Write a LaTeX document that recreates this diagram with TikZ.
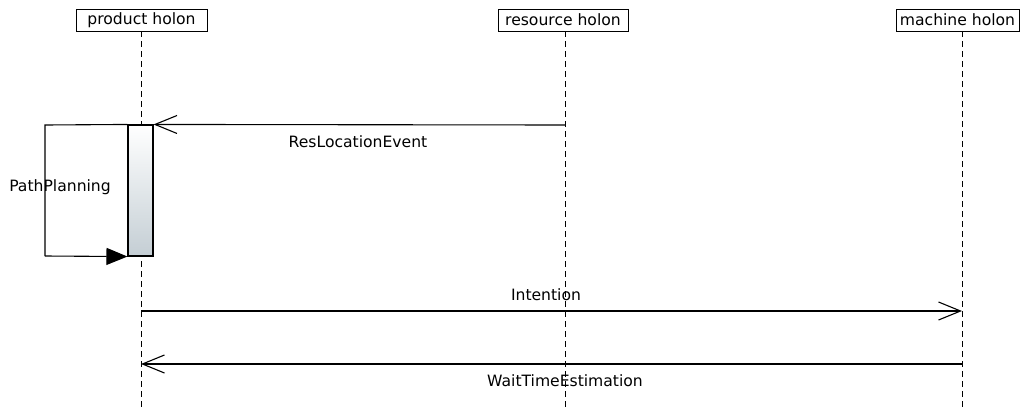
\documentclass[tikz,border=0pt]{standalone}
\usepackage{fontspec}
\setmainfont{DejaVu Sans}
\usetikzlibrary{arrows.meta}
\definecolor{actbottom}{RGB}{196,206,212}
\begin{document}
\begin{tikzpicture}[x=1pt,y=-1pt,
  font=\fontsize{15.6pt}{17pt}\selectfont,
  head/.style={draw, line width=0.9pt, minimum height=22pt, inner sep=0pt, anchor=center},
  lifeline/.style={line width=0.9pt, dash pattern=on 6pt off 4pt},
  msg/.style={line width=1.1pt, -{Straight Barb[length=22pt,width=18pt,line width=1.1pt]}},
  selfmsg/.style={line width=1.1pt, -{Triangle[length=21pt,width=17pt]}},
  lbl/.style={inner sep=0pt}]
\useasboundingbox (0,0) rectangle (1020,410);
% heads
\node[head, minimum width=131pt] (ph) at (141.5,20) {product holon};
\node[head, minimum width=130pt] (rh) at (563,20) {resource holon};
\node[head, minimum width=123pt] (mh) at (957.5,20) {machine holon};
% lifeline ends
\coordinate (pe) at (141,410);
\coordinate (re) at (565,410);
\coordinate (me) at (962,410);
\draw[lifeline] (ph.south -| pe) -- (pe);
\draw[lifeline] (rh.south -| re) -- (re);
\draw[lifeline] (mh.south -| me) -- (me);
% activation
\node[draw, line width=1.1pt, minimum width=25pt, minimum height=131pt, inner sep=0pt,
  top color=white, bottom color=actbottom] (act) at (140.5,190.5) {};
% message points
\coordinate (r1) at (565,125);
\coordinate (l1) at (45,125);
\coordinate (l2) at (45,256);
\coordinate (p3) at (141,311);
\coordinate (m3) at (962,311);
\coordinate (m4) at (962,364);
\coordinate (p4) at (141,364);
% ResLocationEvent
\draw[msg] (r1) -- (act.north east);
\node[lbl] (t1) at (358,142) {ResLocationEvent};
% self call PathPlanning
\draw[line width=1.1pt] (act.north west) -- (l1) -- (l2);
\draw[selfmsg] (l2) -- (act.south west);
\node[lbl] (t2) at (60,187) {PathPlanning};
% Intention
\draw[msg] (p3) -- (m3);
\node[lbl] (t3) at (546,295) {Intention};
% WaitTimeEstimation
\draw[msg] (m4) -- (p4);
\node[lbl] (t4) at (565,381) {WaitTimeEstimation};
\end{tikzpicture}
\end{document}
